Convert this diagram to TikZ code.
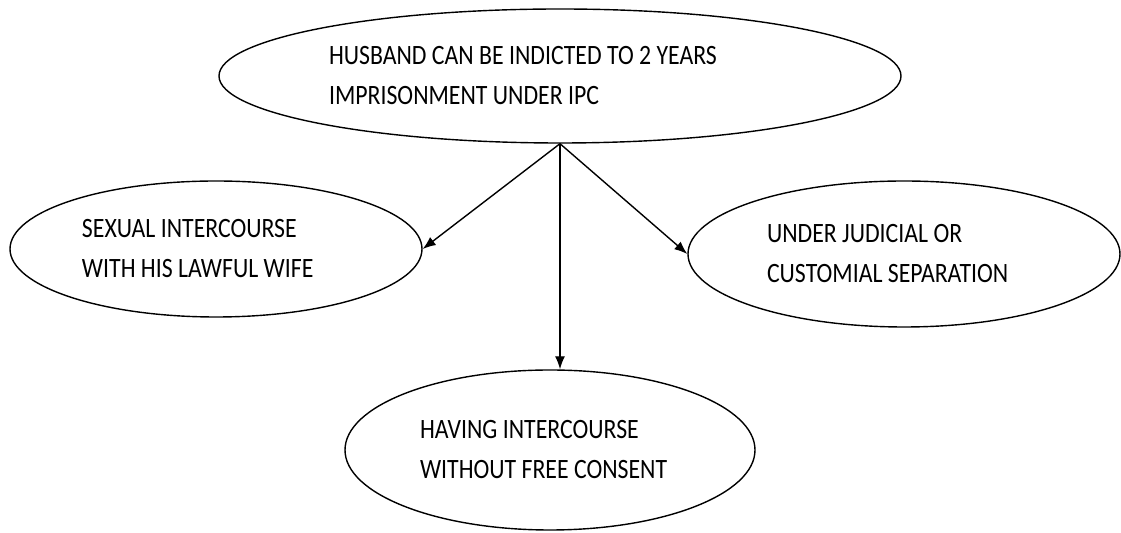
\documentclass[tikz,border=0pt]{standalone}
\usepackage{fontspec}
\setmainfont{Carlito}[FakeStretch=0.85]
\usetikzlibrary{shapes.geometric, arrows.meta}
\tikzstyle{CaseNode}=[ellipse, draw=black, line width=0.7pt, inner sep=0pt, align=flush left, font=\fontsize{14}{20}\selectfont]
\tikzstyle{LinkEdge}=[->, line width=0.7pt]
\tikzset{>={Latex[length=6.5pt,width=5pt]}}

\begin{document}
\begin{tikzpicture}[x=0.5pt, y=-0.5pt]
\useasboundingbox (0,0) rectangle (1121,533);
\node[CaseNode, text width=231pt, minimum width=341pt, minimum height=67pt](Husband) at (560,76) {HUSBAND CAN BE INDICTED TO 2 YEARS\\IMPRISONMENT UNDER IPC};
\node[CaseNode, text width=134pt, minimum width=206pt, minimum height=68pt](Wife) at (216,249) {SEXUAL INTERCOURSE\\WITH HIS LAWFUL WIFE};
\node[CaseNode, text width=137pt, minimum width=216pt, minimum height=73pt](Separation) at (904,254) {UNDER JUDICIAL OR\\CUSTOMIAL SEPARATION};
\node[CaseNode, text width=130pt, minimum width=205pt, minimum height=80pt](Consent) at (550,450) {HAVING INTERCOURSE\\WITHOUT FREE CONSENT};
\coordinate (Fork) at (Husband.south);

\draw[LinkEdge](Fork) -- (Wife.east);
\draw[LinkEdge](Fork) -- (Separation.west);
\draw[LinkEdge](Fork) -- (Fork |- Consent.north);
\end{tikzpicture}
\end{document}
